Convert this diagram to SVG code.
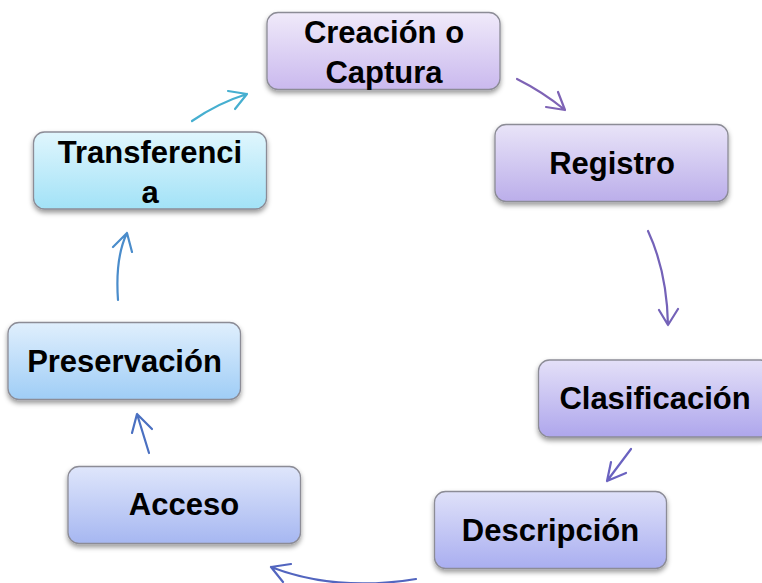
<svg xmlns="http://www.w3.org/2000/svg" width="762" height="583" viewBox="0 0 762 583">
<defs>
<style>
.box{stroke:#8c8c96;stroke-width:1.3;filter:url(#sh)}
.t{font-family:"Liberation Sans",Arial,sans-serif;font-weight:bold;font-size:31px;fill:#000;text-anchor:middle}
.c{fill:none;stroke-width:2.2;stroke-linecap:round;stroke-linejoin:round}
</style>
<filter id="sh" x="-10%" y="-10%" width="120%" height="130%">
<feDropShadow dx="0" dy="3" stdDeviation="2.5" flood-color="#000" flood-opacity="0.4"/>
</filter>
<linearGradient id="g1" x1="0" y1="0" x2="0" y2="1"><stop offset="0" stop-color="#f0eafa"/><stop offset="1" stop-color="#cab9ee"/></linearGradient>
<linearGradient id="g2" x1="0" y1="0" x2="0" y2="1"><stop offset="0" stop-color="#e9e4f8"/><stop offset="1" stop-color="#bbaeea"/></linearGradient>
<linearGradient id="g3" x1="0" y1="0" x2="0" y2="1"><stop offset="0" stop-color="#e4e0f8"/><stop offset="1" stop-color="#aea6ec"/></linearGradient>
<linearGradient id="g4" x1="0" y1="0" x2="0" y2="1"><stop offset="0" stop-color="#dfe1f9"/><stop offset="1" stop-color="#a9aef0"/></linearGradient>
<linearGradient id="g5" x1="0" y1="0" x2="0" y2="1"><stop offset="0" stop-color="#dfe6fb"/><stop offset="1" stop-color="#a6b7f1"/></linearGradient>
<linearGradient id="g6" x1="0" y1="0" x2="0" y2="1"><stop offset="0" stop-color="#e0effd"/><stop offset="1" stop-color="#9fcdf6"/></linearGradient>
<linearGradient id="g7" x1="0" y1="0" x2="0" y2="1"><stop offset="0" stop-color="#e0f6fd"/><stop offset="1" stop-color="#a2e2f7"/></linearGradient>
</defs>
<rect width="762" height="583" fill="#fff"/>
<g id="connectors">
<path class="c" stroke="#7e63b5" d="M517,79 Q543,92 565,110 M558,92 L565,110 L546,107"/>
<path class="c" stroke="#7462b8" d="M648,231 Q667,272 668,325 M659,310 L668,325 L678,309"/>
<path class="c" stroke="#6a62c0" d="M631,449 L607,481 M611,462 L607,481 L626,473"/>
<path class="c" stroke="#5265bf" d="M416,579 Q335,592 271,567 M291,564 L271,567 L283,582"/>
<path class="c" stroke="#4a70c1" d="M149,453 L137,414 M132,433 L137,414 L152,429"/>
<path class="c" stroke="#4a8ccb" d="M118,300 Q115,258 127,233 M113,247 L127,233 L132,252"/>
<path class="c" stroke="#46afd0" d="M192,121 Q218,103 247,94 M228,91 L247,94 L235,109"/>
</g>
<g id="creacion">
<rect class="box" x="267" y="12.5" width="233" height="77" rx="11" fill="url(#g1)"/>
<text class="t" x="384" y="43">Creación o</text>
<text class="t" x="384" y="82.5">Captura</text>
</g>
<g id="registro">
<rect class="box" x="495" y="124.5" width="233" height="77" rx="11" fill="url(#g2)"/>
<text class="t" x="612" y="173.5">Registro</text>
</g>
<g id="clasificacion">
<rect class="box" x="538.5" y="360" width="233" height="77" rx="11" fill="url(#g3)"/>
<text class="t" x="655" y="408.5">Clasificación</text>
</g>
<g id="descripcion">
<rect class="box" x="434.5" y="491.5" width="232" height="77" rx="11" fill="url(#g4)"/>
<text class="t" x="550.5" y="541">Descripción</text>
</g>
<g id="acceso">
<rect class="box" x="68" y="466.5" width="232.5" height="77" rx="11" fill="url(#g5)"/>
<text class="t" x="184" y="514.5">Acceso</text>
</g>
<g id="preservacion">
<rect class="box" x="8" y="322.5" width="232.5" height="77" rx="11" fill="url(#g6)"/>
<text class="t" x="124.5" y="372">Preservación</text>
</g>
<g id="transferencia">
<rect class="box" x="33.5" y="132" width="233" height="77" rx="11" fill="url(#g7)"/>
<text class="t" x="150" y="163">Transferenci</text>
<text class="t" x="150" y="202.5">a</text>
</g>
</svg>
